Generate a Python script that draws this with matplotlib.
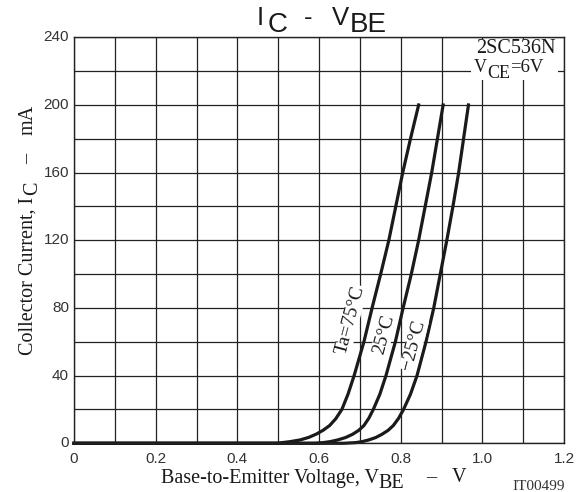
import matplotlib
matplotlib.use("Agg")
import matplotlib.pyplot as plt
import matplotlib.patches as mpatches
import matplotlib.transforms as mtransforms

# Ic - Vbe curves (V -> mA)
ic_75 = [0, 0.4, 1, 2, 3.5, 5.5, 7.7, 10.5, 14.5, 20, 29, 40, 60, 80, 100, 120, 140, 160, 180, 200]
vbe_75 = [0.50, 0.51, 0.53, 0.554, 0.575, 0.594, 0.610, 0.626, 0.641, 0.656, 0.671, 0.686,
          0.710, 0.730, 0.751, 0.771, 0.788, 0.805, 0.824, 0.844]
ic_25 = [0, 0.4, 1, 2, 3.4, 5.3, 7.6, 10.5, 14.8, 20, 29, 40, 60, 80, 100, 120, 140, 160, 180, 200]
vbe_25 = [0.59, 0.610, 0.628, 0.646, 0.665, 0.682, 0.697, 0.710, 0.722, 0.733, 0.749, 0.764,
          0.787, 0.806, 0.826, 0.844, 0.860, 0.876, 0.890, 0.904]
ic_m25 = [0, 0.4, 1, 2, 3.4, 5.3, 7.6, 10.5, 14.8, 20, 29, 40, 60, 80, 100, 120, 140, 160, 180, 200]
vbe_m25 = [0.66, 0.690, 0.706, 0.722, 0.739, 0.754, 0.769, 0.782, 0.795, 0.807, 0.824, 0.840,
           0.862, 0.881, 0.897, 0.913, 0.928, 0.942, 0.954, 0.966]

curve_names = ["Ta=75°C", "25°C", "\u221225°C"]
label_x = [0.677, 0.759, 0.832]
label_y = [73, 64.6, 58]

xticks = [0, 0.2, 0.4, 0.6, 0.8, 1.0, 1.2]
xtick_labels = ["0", "0.2", "0.4", "0.6", "0.8", "1.0", "1.2"]
yticks = [0, 40, 80, 120, 160, 200, 240]

serif = "Liberation Serif"
sans = "Liberation Sans"
ink = "#1a1a1a"

fig = plt.figure(figsize=(5.83, 4.92), dpi=100)
ax = fig.add_axes([74 / 583, 0.099, 490 / 583, 0.8252])
renderer = fig.canvas.get_renderer()
pix = mtransforms.IdentityTransform()

ax.set_xlim(0, 1.2)
ax.set_ylim(0, 240)
ax.set_xticks([i / 10 for i in range(13)])
ax.set_yticks(list(range(0, 241, 20)))
ax.grid(True, color="#222222", linewidth=0.9)
ax.set_axisbelow(True)
ax.tick_params(length=0, labelbottom=False, labelleft=False)
for s in ax.spines.values():
    s.set_linewidth(1.0)
    s.set_color("#222222")

# labels only on every other gridline
for x, t in zip(xticks, xtick_labels):
    ax.text(x, -5, t, ha="center", va="top", fontsize=11, family=sans, color="#333333")
for y in yticks:
    ax.text(-0.012, y, str(y), ha="right", va="center", fontsize=11, family=sans, color="#333333")

for v, i in [(vbe_75, ic_75), (vbe_25, ic_25), (vbe_m25, ic_m25)]:
    ax.plot([0] + v, [0] + i, color=ink, linewidth=2.3, clip_on=False,
            solid_joinstyle="round")

for name, lx, ly in zip(curve_names, label_x, label_y):
    ax.text(lx, ly, name, rotation=75, ha="center", va="center", fontsize=14,
            family=serif, color=ink,
            bbox=dict(facecolor="white", edgecolor="none", pad=0.3))


def chain(pieces, start, base, family, vertical=False):
    # pieces: (text, size, drop in px, gap in px before the piece)
    pos = start
    for s, size, drop, gap in pieces:
        pos += gap
        kw = dict(fontsize=size, family=family, color=ink, transform=pix,
                  ha="left", va="baseline")
        if vertical:
            t = fig.text(base + drop, pos, s, rotation=90, rotation_mode="anchor", **kw)
            pos += t.get_window_extent(renderer).height
        else:
            t = fig.text(pos, base - drop, s, **kw)
            pos += t.get_window_extent(renderer).width


chain([("I", 18.5, 0, 0), ("C", 20, 6.7, 4), ("-", 18.5, 0, 16),
       ("V", 18.5, 0, 20), ("BE", 20, 6.7, 0)], 256.7, 467, sans)

chain([("Base-to-Emitter Voltage, V", 14.5, 0, 0), ("BE", 14.5, 6, 0),
       ("\u2013", 14.5, 0, 22), ("V", 14.5, 0, 15)], 160.7, 9.5, serif)

chain([("Collector Current, I", 14.5, 0, 0), ("C", 14.5, 5, 2),
       ("\u2013", 14.5, 0, 17), ("mA", 14.5, 0, 19)], 137, 32.5, serif, vertical=True)

# white patch behind the part number / condition, hiding the grid there
fig.add_artist(mpatches.Rectangle((471, 412), 87, 41, transform=pix,
                                  facecolor="white", edgecolor="none", zorder=2))
fig.text(556, 439, "2SC536N", ha="right", va="baseline", fontsize=14.5, family=serif,
         color=ink, transform=pix)
chain([("V", 13, 0, 0), ("CE", 13, 6, 0), ("=6V", 13.5, 0, 0)],
      474, 420.5, serif)

fig.text(512, 2, "IT00499", ha="left", va="baseline", fontsize=11,
         family=serif, color="#333333", transform=pix)

fig.savefig("out.png", dpi=100)
